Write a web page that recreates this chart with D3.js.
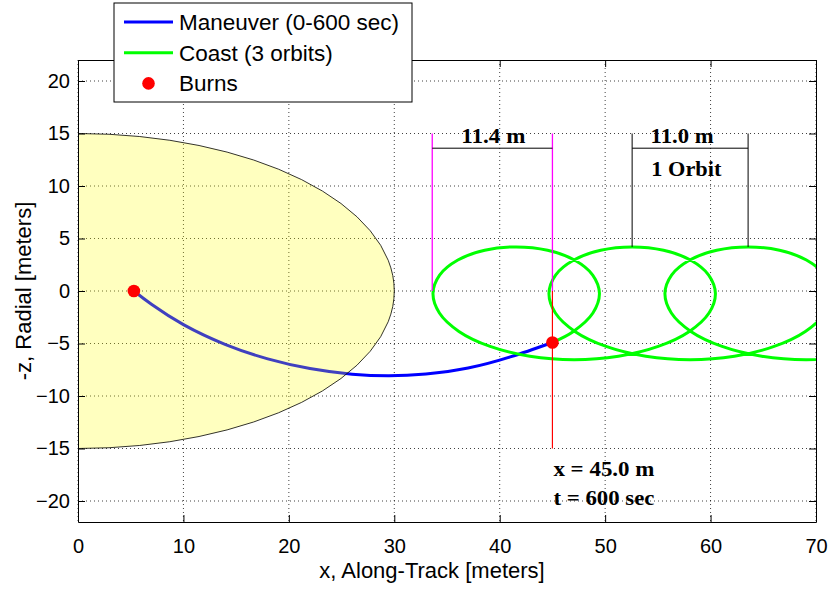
<!DOCTYPE html>
<html>
<head>
<meta charset="utf-8">
<script src="https://cdn.jsdelivr.net/npm/d3@7"></script>
<style>
body { margin: 0; background: #fff; }
svg { display: block; font-family: "Liberation Sans", Arial, sans-serif; }
.grid line { stroke: #000; stroke-dasharray: 1,3; stroke-opacity: 0.75; }
.axis path, .axis line { stroke: #000; }
.axis text { font-size: 20px; fill: #000; }
.ann { font-family: "Liberation Serif", "Times New Roman", serif; font-weight: bold; font-size: 20px; }
</style>
</head>
<body>
<div id="chart"></div>
<script>
// tick values
const xTicks = [0, 10, 20, 30, 40, 50, 60, 70];
const yTicks = [-20, -15, -10, -5, 0, 5, 10, 15, 20];

// keep-out ellipse semi axes (along-track, radial) in meters
const keepOutRadii = [30, 15];

// maneuver trajectory (0-600 sec)
const maneuverX = [5.3, 7.0, 10.0, 14.0, 18.0, 22.0, 26.0, 29.5, 33.0, 37.0, 41.0, 45.0];
const maneuverY = [0, -1.29, -3.2, -5.1, -6.46, -7.38, -7.92, -8.08, -7.91, -7.34, -6.28, -4.9];

// coast trajectory (3 orbits)
const coastX = [45.00, 46.99, 48.84, 49.46, 48.82, 47.09, 44.54, 41.56, 38.58, 36.03, 34.30, 33.67,
    34.28, 36.13, 39.09, 42.86, 47.06, 51.26, 55.03, 57.99, 59.85, 60.46, 59.82, 58.09, 55.54,
    52.56, 49.58, 47.03, 45.30, 44.67, 45.28, 47.13, 50.09, 53.86, 58.06, 62.26, 66.03, 68.99,
    70.85, 71.46, 70.82, 69.09, 66.54, 63.56, 60.58, 58.03, 56.30, 55.67, 56.28, 58.13, 61.09,
    64.86, 69.06, 73.26, 78.02];
const coastY = [-4.90, -3.85, -2.10, -0.24, 1.52, 2.95, 3.88, 4.20, 3.88, 2.95, 1.52, -0.24,
    -2.10, -3.85, -5.28, -6.21, -6.54, -6.21, -5.28, -3.85, -2.10, -0.24, 1.52, 2.95, 3.88,
    4.20, 3.88, 2.95, 1.52, -0.24, -2.10, -3.85, -5.28, -6.21, -6.54, -6.21, -5.28, -3.85,
    -2.10, -0.24, 1.52, 2.95, 3.88, 4.20, 3.88, 2.95, 1.52, -0.24, -2.10, -3.85, -5.28,
    -6.21, -6.54, -6.21, -4.90];

// burn points
const burnX = [5.3, 45.0];
const burnY = [0, -4.9];

// annotations
const driftSpan = [33.6, 45.0];     // magenta markers
const orbitSpan = [52.56, 63.56];   // one orbit drift markers
const orbitTopY = 4.2;
const finalX = 45.0;
const finalLabels = ["x = 45.0 m", "t = 600 sec"];

const width = 830, height = 592;
const margin = {top: 60, right: 14, bottom: 70, left: 78};

const svg = d3.select("#chart").append("svg")
    .attr("width", width)
    .attr("height", height);

const x = d3.scaleLinear().domain([0, 70]).range([margin.left, width - margin.right]);
const y = d3.scaleLinear().domain([-22, 22]).range([height - margin.bottom, margin.top]);

svg.append("defs").append("clipPath").attr("id", "plot-clip")
    .append("rect")
    .attr("x", x(0)).attr("y", y(22))
    .attr("width", x(70) - x(0)).attr("height", y(-22) - y(22));

// grid
const grid = svg.append("g").attr("class", "grid");
grid.selectAll("line.vx").data(xTicks).enter().append("line")
    .attr("x1", d => x(d)).attr("x2", d => x(d))
    .attr("y1", y(22)).attr("y2", y(-22));
grid.selectAll("line.hy").data(yTicks).enter().append("line")
    .attr("x1", x(0)).attr("x2", x(70))
    .attr("y1", d => y(d)).attr("y2", d => y(d));

const plot = svg.append("g").attr("clip-path", "url(#plot-clip)");

const smooth = d3.line()
    .x(d => x(d[0]))
    .y(d => y(d[1]))
    .curve(d3.curveNatural);

const loops = d3.line()
    .x(d => x(d[0]))
    .y(d => y(d[1]))
    .curve(d3.curveCatmullRom);

// maneuver (drawn under the translucent keep-out zone)
plot.append("path")
    .datum(maneuverX.map((v, i) => [v, maneuverY[i]]))
    .attr("d", smooth)
    .attr("fill", "none")
    .attr("stroke", "#0000ff")
    .attr("stroke-width", 3);

// keep-out ellipse
plot.append("ellipse")
    .attr("cx", x(0)).attr("cy", y(0))
    .attr("rx", x(keepOutRadii[0]) - x(0))
    .attr("ry", y(0) - y(keepOutRadii[1]))
    .attr("fill", "#ffff00")
    .attr("fill-opacity", 0.25)
    .attr("stroke", "#000")
    .attr("stroke-width", 0.8);

// coast
plot.append("path")
    .datum(coastX.map((v, i) => [v, coastY[i]]))
    .attr("d", loops)
    .attr("fill", "none")
    .attr("stroke", "#00ff00")
    .attr("stroke-width", 3);

// annotation lines
plot.selectAll("line.mag").data(driftSpan).enter().append("line")
    .attr("x1", d => x(d)).attr("x2", d => x(d))
    .attr("y1", y(15)).attr("y2", y(0))
    .attr("stroke", "#ff00ff").attr("stroke-width", 1.3);
plot.append("line")
    .attr("x1", x(driftSpan[0])).attr("x2", x(driftSpan[1]))
    .attr("y1", y(13.6)).attr("y2", y(13.6))
    .attr("stroke", "#000").attr("stroke-width", 1);
plot.selectAll("line.orb").data(orbitSpan).enter().append("line")
    .attr("x1", d => x(d)).attr("x2", d => x(d))
    .attr("y1", y(15)).attr("y2", y(orbitTopY))
    .attr("stroke", "#000").attr("stroke-width", 1);
plot.append("line")
    .attr("x1", x(orbitSpan[0])).attr("x2", x(orbitSpan[1]))
    .attr("y1", y(13.6)).attr("y2", y(13.6))
    .attr("stroke", "#000").attr("stroke-width", 1);
plot.append("line")
    .attr("x1", x(finalX)).attr("x2", x(finalX))
    .attr("y1", y(0)).attr("y2", y(-15))
    .attr("stroke", "#ff0000").attr("stroke-width", 1.2);

// burns
plot.selectAll("circle.burn").data(burnX).enter().append("circle")
    .attr("cx", d => x(d))
    .attr("cy", (d, i) => y(burnY[i]))
    .attr("r", 6.3)
    .attr("fill", "#ff0000");

// annotation text
const ann = svg.append("g").attr("class", "ann");
ann.append("text")
    .attr("x", x((driftSpan[0] + driftSpan[1]) / 2) + 1).attr("y", y(14.1))
    .attr("text-anchor", "middle")
    .attr("textLength", 64).attr("lengthAdjust", "spacingAndGlyphs")
    .text("11.4 m");
ann.append("text")
    .attr("x", x(57.3)).attr("y", y(14.1))
    .attr("text-anchor", "middle")
    .attr("textLength", 63).attr("lengthAdjust", "spacingAndGlyphs")
    .text("11.0 m");
ann.append("text")
    .attr("x", x(57.7)).attr("y", y(11.0))
    .attr("text-anchor", "middle")
    .attr("textLength", 70).attr("lengthAdjust", "spacingAndGlyphs")
    .text("1 Orbit");
ann.selectAll("text.fin").data(finalLabels).enter().append("text")
    .attr("x", x(finalX) + 1)
    .attr("y", (d, i) => y(-17.6 - i * 2.75))
    .attr("textLength", 101).attr("lengthAdjust", "spacingAndGlyphs")
    .text(d => d);

// axes with inward ticks
svg.append("g").attr("class", "axis")
    .attr("transform", "translate(0," + y(-22) + ")")
    .call(d3.axisBottom(x).tickValues(xTicks).tickSizeInner(-7).tickSizeOuter(0).tickPadding(17));
svg.append("g").attr("class", "axis")
    .attr("transform", "translate(0," + y(22) + ")")
    .call(d3.axisTop(x).tickValues(xTicks).tickSizeInner(-7).tickSizeOuter(0).tickFormat(""));
svg.append("g").attr("class", "axis")
    .attr("transform", "translate(" + x(0) + ",0)")
    .call(d3.axisLeft(y).tickValues(yTicks).tickSizeInner(-7).tickSizeOuter(0).tickPadding(8));
svg.append("g").attr("class", "axis")
    .attr("transform", "translate(" + x(70) + ",0)")
    .call(d3.axisRight(y).tickValues(yTicks).tickSizeInner(-7).tickSizeOuter(0).tickFormat(""));
svg.selectAll(".axis text").attr("font-family", null);

// axis labels
svg.append("text")
    .attr("x", (x(0) + x(70)) / 2 - 15).attr("y", 578)
    .attr("text-anchor", "middle")
    .attr("font-size", 22)
    .text("x, Along-Track [meters]");
svg.append("text")
    .attr("transform", "translate(31," + y(0) + ") rotate(-90)")
    .attr("text-anchor", "middle")
    .attr("font-size", 22)
    .text("-z, Radial [meters]");

// legend
const legend = svg.append("g").attr("transform", "translate(114,3)");
legend.append("rect")
    .attr("width", 298).attr("height", 99)
    .attr("fill", "#fff").attr("stroke", "#000").attr("stroke-width", 1);
const legendItems = [
    {label: "Maneuver (0-600 sec)", color: "#0000ff", type: "line"},
    {label: "Coast (3 orbits)", color: "#00ff00", type: "line"},
    {label: "Burns", color: "#ff0000", type: "dot"}
];
legendItems.forEach(function(item, i) {
    let cy = 19 + i * 30.7;
    if (item.type === "line") {
        legend.append("line")
            .attr("x1", 10).attr("x2", 59)
            .attr("y1", cy).attr("y2", cy)
            .attr("stroke", item.color).attr("stroke-width", 3);
    } else {
        legend.append("circle")
            .attr("cx", 34.5).attr("cy", cy).attr("r", 6.3)
            .attr("fill", item.color);
    }
    legend.append("text")
        .attr("x", 65).attr("y", cy + 8)
        .attr("font-size", 22.5)
        .text(item.label);
});
</script>
</body>
</html>
